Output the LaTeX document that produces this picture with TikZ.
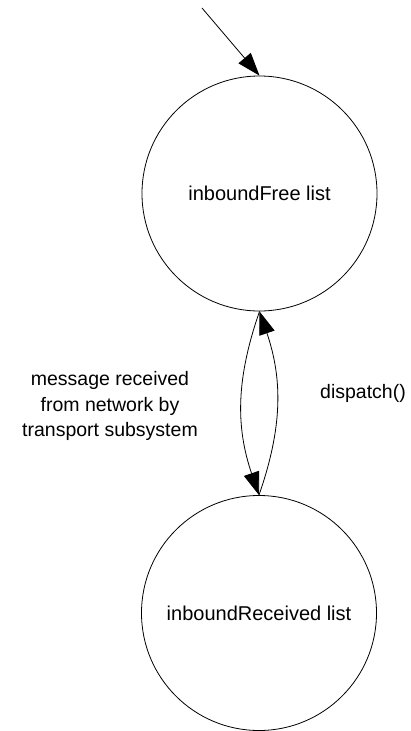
\documentclass[tikz,border=0pt]{standalone}
\usepackage{fontspec}
\setmainfont{Liberation Sans}
\usetikzlibrary{arrows.meta}
\begin{document}
\begin{tikzpicture}[x=1pt,y=-1pt,
  state/.style={draw,circle,minimum size=235pt,inner sep=0pt,line width=0.8pt,font=\fontsize{20}{24}\selectfont},
  lbl/.style={align=center,font=\fontsize{19.5}{25.5}\selectfont},
  conn/.style={line width=0.8pt,-{Triangle[length=23pt,width=16pt]}}]
  \useasboundingbox (0,0) rectangle (411,731);
  \node[state] (free) at (259.5,193.5) {inboundFree list};
  \node[state] (recv) at (259,613) {inboundReceived list};
  \coordinate (entry) at (202,8);
  \draw[conn] (entry) -- (free.north);
  \draw[conn] (free.south) to[bend right=19] (recv.north);
  \draw[conn] (recv.north) to[bend right=19] (free.south);
  \node[lbl] (msg) at (110,406) {message received\\from network by\\transport subsystem};
  \node[lbl] (disp) at (363,393) {dispatch()};
\end{tikzpicture}
\end{document}
